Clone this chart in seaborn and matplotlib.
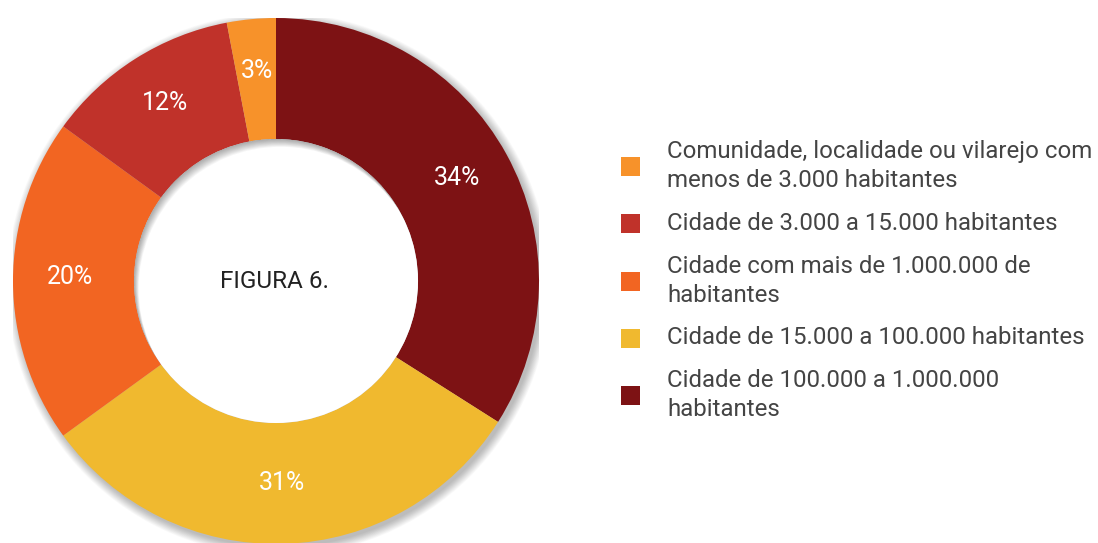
import matplotlib
matplotlib.use("Agg")
import matplotlib.pyplot as plt
import seaborn as sns
from matplotlib.patches import Circle, Wedge, Rectangle
from matplotlib.transforms import ScaledTranslation

sns.set_theme(style="white")
plt.rcParams['font.family'] = ['Roboto', 'DejaVu Sans']

# Data (clockwise from 12 o'clock)
categories = [
    "Cidade de 100.000 a 1.000.000\nhabitantes",
    "Cidade de 15.000 a 100.000 habitantes",
    "Cidade com mais de 1.000.000 de\nhabitantes",
    "Cidade de 3.000 a 15.000 habitantes",
    "Comunidade, localidade ou vilarejo com\nmenos de 3.000 habitantes",
]
values = [34, 31, 20, 12, 3]
colors = ["#7d1214", "#f0b92f", "#f26522", "#c0322a", "#f7922a"]
center_title = "FIGURA 6."

W, H = 1098, 543
fig = plt.figure(figsize=(W / 100, H / 100), dpi=100)
fig.patch.set_facecolor("white")

cx, cy, R = 276, 281, 263
ax = fig.add_axes([(cx - R) / W, (H - cy - R) / H, 2 * R / W, 2 * R / H])

inner = 0.54
# outer drop shadow (soft)
for k in range(14):
    ax.add_patch(Circle((0.010, -0.012), 1.0 + 0.0025 * k, color="#000000",
                        alpha=0.018, lw=0, zorder=0))

wedges, texts = ax.pie(values, colors=colors, startangle=90, counterclock=False,
                       radius=1.0, labels=[f"{v}%" for v in values],
                       labeldistance=0.785,
                       wedgeprops=dict(width=1 - inner, linewidth=0),
                       textprops=dict(color="white", fontsize=18))
for w in wedges:
    w.set_zorder(2)
up = ScaledTranslation(0, 4 / 100, fig.dpi_scale_trans)
for t in texts:
    t.set_ha("center")
    t.set_va("center")
    t.set_zorder(5)
    t.set_transform(t.get_transform() + up)

hole = Circle((0, 0), inner, color="white", lw=0, zorder=3)
ax.add_patch(hole)
# inner shadow
for k in range(10):
    d = 0.003 * (k + 1)
    sh = Wedge((d * 0.6, -d), inner + 1.0, 0, 360, width=1.0, color="#000000",
               alpha=0.035, lw=0, zorder=4)
    ax.add_patch(sh)
    sh.set_clip_path(hole)

ax.text(-0.005, 0.0, center_title, ha="center", va="center", fontsize=17.5,
        color="#222222", zorder=6)

ax.set_xlim(-1, 1)
ax.set_ylim(-1, 1)
ax.set_aspect("equal")
ax.axis("off")

# legend (manual, pixel positions)
leg_y = [166, 223, 281, 338, 395]
order = [4, 3, 2, 1, 0]
for y, i in zip(leg_y, order):
    fig.patches.append(Rectangle((621 / W, (H - y - 9.5) / H), 19 / W, 19 / H,
                                 transform=fig.transFigure, color=colors[i],
                                 lw=0))
    fig.text(667 / W, (H - y) / H, categories[i], ha="left", va="center",
             fontsize=17.3, color="#444444", linespacing=1.3)

fig.savefig("out.png", dpi=100, facecolor="white")
